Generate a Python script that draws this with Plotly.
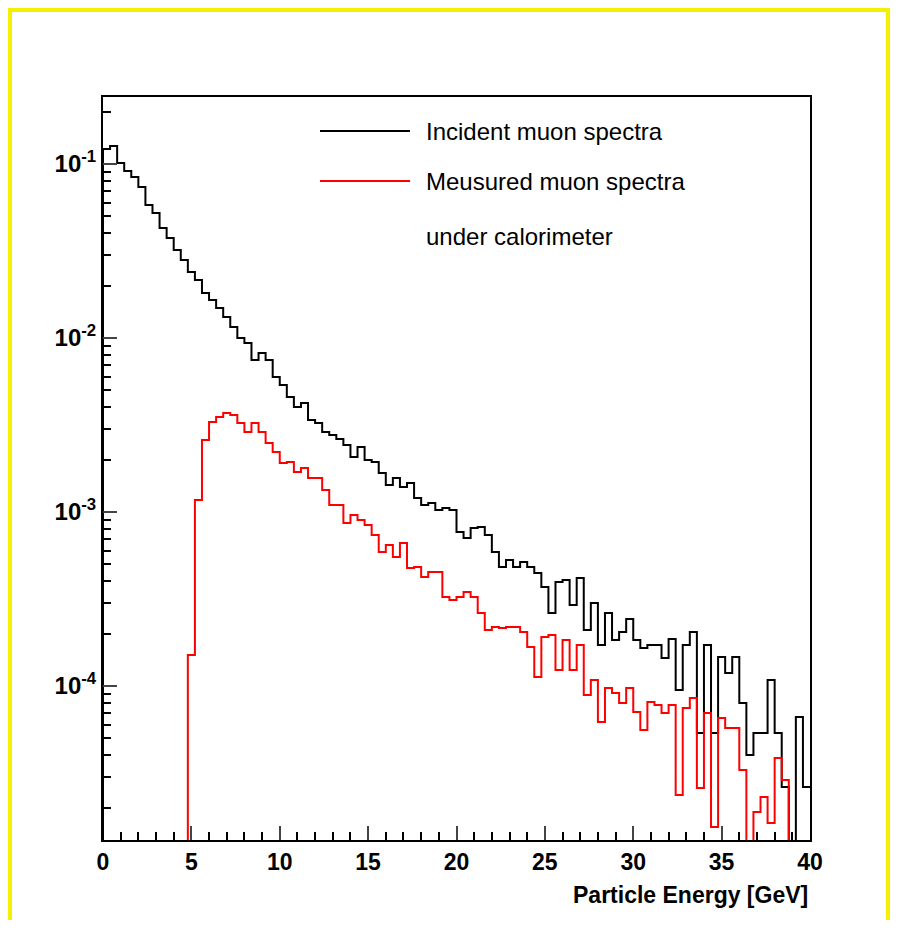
import plotly.graph_objs as go

# 100 bins of 0.4 GeV, values as log10 of the bin content (None = empty bin)
bin_edges = [i * 0.4 for i in range(101)]

black_log10 = [
    -0.914, -0.897, -0.994, -1.040, -1.075, -1.132, -1.236, -1.282, -1.368, -1.425,
    -1.494, -1.552, -1.621, -1.667, -1.741, -1.782, -1.828, -1.879, -1.937, -2.000,
    -2.029, -2.126, -2.086, -2.126, -2.224, -2.270, -2.339, -2.397, -2.374, -2.471,
    -2.489, -2.540, -2.557, -2.580, -2.615, -2.684, -2.626, -2.701, -2.713, -2.776,
    -2.845, -2.805, -2.856, -2.833, -2.920, -2.960, -2.948, -2.989, -2.977, -2.989,
    -3.115, -3.149, -3.092, -3.086, -3.132, -3.230, -3.316, -3.276, -3.316, -3.287,
    -3.316, -3.351, -3.431, -3.580, -3.402, -3.391, -3.534, -3.379, -3.678, -3.523,
    -3.764, -3.580, -3.736, -3.690, -3.615, -3.736, -3.782, -3.764, -3.764, -3.839,
    -3.730, -4.023, -3.764, -3.690, -4.270, -3.764, -4.270, -3.833, -3.925, -3.833,
    -4.098, -4.397, -4.270, -4.270, -3.966, -4.270, -4.580, None, -4.178, -4.580,
]

red_log10 = [None] * 12 + [
    -3.822, -2.931, -2.586, -2.483, -2.454, -2.431, -2.443, -2.489,
    -2.540, -2.489, -2.540, -2.603, -2.655, -2.718, -2.713, -2.770, -2.747, -2.805,
    -2.805, -2.874, -2.960, -2.960, -3.063, -3.017, -3.046, -3.075, -3.132, -3.230,
    -3.190, -3.259, -3.178, -3.322, -3.316, -3.374, -3.345, -3.345, -3.489, -3.506,
    -3.489, -3.460, -3.489, -3.580, -3.678, -3.661, -3.667, -3.661, -3.661, -3.690,
    -3.776, -3.948, -3.718, -3.707, -3.908, -3.736, -3.908, -3.764, -4.052, -3.966,
    -4.207, -4.011, -4.040, -4.098, -4.011, -4.149, -4.253, -4.092, -4.109, -4.155,
    -4.109, -4.626, -4.126, -4.069, -4.586, -4.155, -4.810, -4.184, -4.241, -4.241,
    -4.483, None, -4.724, -4.638, -4.787, -4.414, -4.540, None, None, None,
]

x_ticks = [0, 5, 10, 15, 20, 25, 30, 35, 40]
y_decades = [1e-4, 1e-3, 1e-2, 1e-1]
y_labels = ["10<sup>-4</sup>", "10<sup>-3</sup>", "10<sup>-2</sup>", "10<sup>-1</sup>"]


def to_hist(logs):
    ys = [10 ** v if v is not None else 1e-8 for v in logs]
    return ys + [ys[-1]]


FONT = "Liberation Sans"
# the page puts the figure 8px in from the corner; keep it small enough to avoid scrollbars
OFF = 8
FW, FH = 899 - 2 * OFF, 928 - 2 * OFF
L, R, T, B = 103 - OFF, 810 - OFF, 97 - OFF, 840 - OFF
W, H = R - L, B - T


def px(x):
    return (x - OFF - L) / W


def py(y):
    return (B - (y - OFF)) / H


fig = go.Figure()
fig.add_trace(go.Scatter(x=[0] + bin_edges, y=[1e-8] + to_hist(black_log10), mode="lines",
                         line=dict(color="black", width=2, shape="hv"), showlegend=False))
fig.add_trace(go.Scatter(x=bin_edges, y=to_hist(red_log10), mode="lines",
                         line=dict(color="red", width=2, shape="hv"), showlegend=False))

minor_vals = [m * d for d in [1e-5, 1e-4, 1e-3, 1e-2, 1e-1] for m in range(2, 10)]

fig.update_layout(
    width=FW, height=FH,
    margin=dict(l=L, r=FW - R, t=T, b=FH - B),
    paper_bgcolor="white", plot_bgcolor="white",
    font=dict(family=FONT, color="black"),
    xaxis=dict(range=[0, 40], tickvals=x_ticks, ticks="inside", ticklen=14, tickwidth=1.5,
               showline=True, linecolor="black", linewidth=2, mirror=True, showgrid=False,
               zeroline=False, tickfont=dict(size=23, family=FONT, weight="bold"),
               minor=dict(dtick=1, ticks="inside", ticklen=8, tickcolor="black")),
    yaxis=dict(type="log", range=[-4.885, -0.615], tickvals=y_decades, ticktext=y_labels,
               ticks="inside", ticklen=14, tickwidth=1.5, showline=True, linecolor="black",
               linewidth=2, mirror=True, showgrid=False, zeroline=False,
               tickfont=dict(size=24, family=FONT, weight="bold"),
               minor=dict(tickvals=minor_vals, ticks="inside", ticklen=8, tickcolor="black")),
)

fig.add_annotation(text="<b>Particle Energy [GeV]</b>", xref="paper", yref="paper",
                   x=1, y=py(880), xanchor="right", yanchor="top", showarrow=False,
                   font=dict(size=23, family=FONT))

# legend
leg = [("Incident muon spectra", "black", 131), ("Meusured muon spectra", "red", 181),
       ("under calorimeter", None, 236)]
for text, col, ly in leg:
    if col:
        fig.add_shape(type="line", xref="paper", yref="paper", x0=px(320), x1=px(410),
                      y0=py(ly), y1=py(ly), line=dict(color=col, width=2))
    fig.add_annotation(text=text, xref="paper", yref="paper", x=px(424), y=py(ly),
                       xanchor="left", yanchor="middle", showarrow=False,
                       font=dict(size=24, family=FONT))

# yellow frame (clamped to the figure area)
fig.add_shape(type="rect", xref="paper", yref="paper", x0=px(10), x1=px(OFF + FW - 3),
              y0=py(OFF + FH + 20), y1=py(OFF + 2), line=dict(color="#f5f000", width=4))

fig.write_html("out.html")
